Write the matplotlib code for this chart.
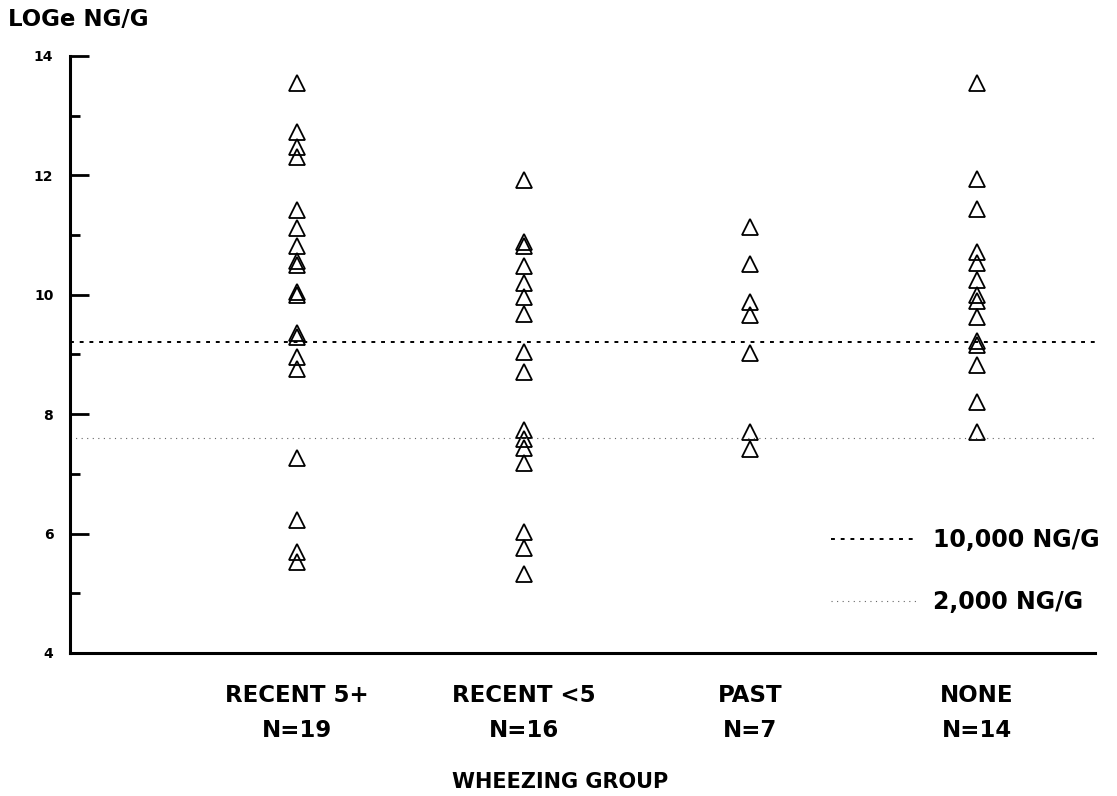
import numpy as np
import matplotlib.pyplot as plt
from matplotlib.lines import Line2D

plt.rcParams['font.family'] = ['DejaVu Sans']

# data (LOGe ng/g)
groups = ['RECENT 5+\nN=19', 'RECENT <5\nN=16', 'PAST\nN=7', 'NONE\nN=14']
recent5 = [13.55, 12.72, 12.48, 12.3, 11.42, 11.12, 10.82, 10.57, 10.5, 10.05,
           10.0, 9.36, 9.3, 8.95, 8.75, 7.27, 6.22, 5.7, 5.52]
recent_lt5 = [11.92, 10.88, 10.82, 10.48, 10.2, 9.96, 9.68, 9.04, 8.7, 7.74,
              7.58, 7.44, 7.18, 6.02, 5.76, 5.32]
past = [11.14, 10.52, 9.88, 9.66, 9.03, 7.7, 7.42]
none = [13.55, 11.94, 11.44, 10.72, 10.53, 10.24, 10.0, 9.9, 9.62, 9.22,
        9.16, 8.82, 8.2, 7.7]
all_groups = [recent5, recent_lt5, past, none]
cut_10000 = np.log(10000)
cut_2000 = np.log(2000)

fig = plt.figure(figsize=(11.17, 7.96), dpi=100)
ax = fig.add_axes([70/1117, 1-653/796, (1095-70)/1117, (653-56)/796])

for i, vals in enumerate(all_groups):
    ax.plot([i+1]*len(vals), vals, linestyle='none', marker='^', ms=11.5,
            mfc='none', mec='black', mew=1.3)

ax.axhline(cut_10000, color='black', lw=1.4, linestyle=(0, (2, 3)))
ax.axhline(cut_2000, color='#666666', lw=0.8, linestyle=(0, (1, 4)))

ax.set_xlim(0, 4.52)
ax.set_ylim(4, 14)
ax.set_xticks([1, 2, 3, 4])
ax.set_xticklabels(groups, fontsize=16.5, fontweight='bold', linespacing=1.7)
ax.set_yticks([4, 6, 8, 10, 12, 14])
ax.set_yticklabels(['4', '6', '8', '10', '12', '14'], fontsize=10, fontweight='bold')
ax.set_yticks([5, 7, 9, 11, 13], minor=True)
ax.tick_params(axis='y', which='major', direction='in', length=14, width=2, pad=12)
ax.tick_params(axis='y', which='minor', direction='in', length=7, width=2)
ax.tick_params(axis='x', length=0, pad=22)
for s in ['top', 'right']:
    ax.spines[s].set_visible(False)
ax.spines['left'].set_linewidth(2.2)
ax.spines['bottom'].set_linewidth(2.2)

fig.text(8/1117, 1-20/796, 'LOGe NG/G', fontsize=16.5, fontweight='bold', va='center')
fig.text(560/1117, 1-782/796, 'WHEEZING GROUP', fontsize=15, fontweight='bold',
         ha='center', va='center')

handles = [Line2D([], [], color='black', lw=1.4, linestyle=(0, (2, 3))),
           Line2D([], [], color='#666666', lw=0.8, linestyle=(0, (1, 4)))]
ax.legend(handles, ['10,000 NG/G', '2,000 NG/G'], loc='lower right',
          bbox_to_anchor=(1.025, 0.03), frameon=False, handlelength=3.6,
          handletextpad=0.7, labelspacing=1.6, prop={'size': 17, 'weight': 'bold'})

fig.savefig('out.png', dpi=100)
